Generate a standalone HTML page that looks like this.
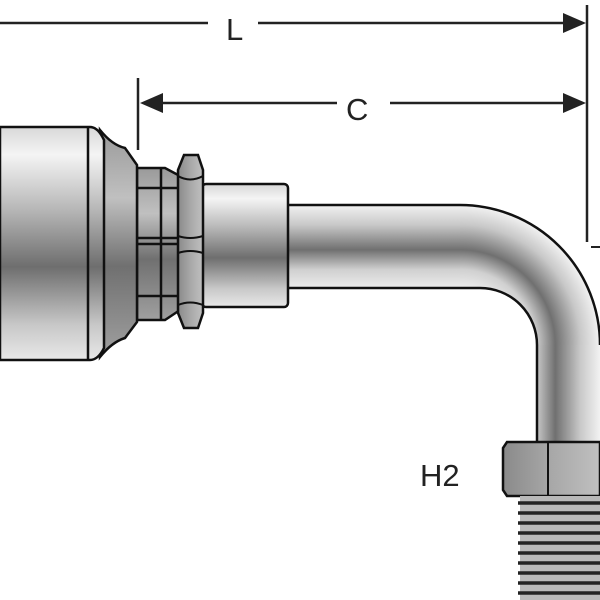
<!DOCTYPE html>
<html><head><meta charset="utf-8"><style>html,body{margin:0;padding:0;background:#fff}svg{display:block}</style></head>
<body>
<svg width="600" height="600" viewBox="0 0 600 600" xmlns="http://www.w3.org/2000/svg">
<defs>
<linearGradient id="gv" x1="0" y1="0" x2="0" y2="1">
<stop offset="0" stop-color="#d8d8d8"/><stop offset="0.12" stop-color="#f4f4f4"/><stop offset="0.35" stop-color="#b8b8b8"/><stop offset="0.6" stop-color="#6e6e6e"/><stop offset="0.85" stop-color="#c8c8c8"/><stop offset="1" stop-color="#e8e8e8"/>
</linearGradient>
<linearGradient id="gt" gradientUnits="userSpaceOnUse" x1="0" y1="205" x2="0" y2="288">
<stop offset="0" stop-color="#f2f2f2"/><stop offset="0.24" stop-color="#c8c8c8"/><stop offset="0.54" stop-color="#707070"/><stop offset="0.78" stop-color="#d0d0d0"/><stop offset="1" stop-color="#ececec"/>
</linearGradient>
<radialGradient id="gr" cx="460" cy="345" r="140" gradientUnits="userSpaceOnUse">
<stop offset="0.41" stop-color="#ececec"/><stop offset="0.54" stop-color="#d0d0d0"/><stop offset="0.68" stop-color="#707070"/><stop offset="0.86" stop-color="#c8c8c8"/><stop offset="1" stop-color="#f2f2f2"/>
</radialGradient>
<linearGradient id="gx" gradientUnits="userSpaceOnUse" x1="517" y1="0" x2="600" y2="0">
<stop offset="0" stop-color="#ececec"/><stop offset="0.22" stop-color="#d0d0d0"/><stop offset="0.46" stop-color="#707070"/><stop offset="0.76" stop-color="#c8c8c8"/><stop offset="1" stop-color="#f2f2f2"/>
</linearGradient>
<linearGradient id="gd" x1="0" y1="0" x2="0" y2="1">
<stop offset="0" stop-color="#9a9a9a"/><stop offset="0.3" stop-color="#c0c0c0"/><stop offset="0.6" stop-color="#707070"/><stop offset="1" stop-color="#a0a0a0"/>
</linearGradient>
<linearGradient id="gn" x1="0" y1="0" x2="1" y2="0">
<stop offset="0" stop-color="#8a8a8a"/><stop offset="0.5" stop-color="#a8a8a8"/><stop offset="1" stop-color="#c0c0c0"/>
</linearGradient>
</defs>
<g stroke="#222" stroke-width="2.5" fill="none">
<line x1="0" y1="23" x2="208" y2="23"/><line x1="258" y1="23" x2="572" y2="23"/>
<line x1="587" y1="5" x2="587" y2="242"/>
<line x1="152" y1="103" x2="337" y2="103"/><line x1="390" y1="103" x2="572" y2="103"/>
<line x1="138" y1="78" x2="138" y2="150"/>
</g>
<polygon points="586,23 563,13 563,33" fill="#222"/>
<polygon points="586,103 563,93 563,113" fill="#222"/>
<polygon points="140,103 163,93 163,113" fill="#222"/>
<line x1="591" y1="247" x2="600" y2="247" stroke="#222" stroke-width="2"/>
<text x="226" y="40" font-family="Liberation Sans, sans-serif" font-size="31" fill="#222">L</text>
<text x="346" y="120" font-family="Liberation Sans, sans-serif" font-size="31" fill="#222">C</text>
<text x="420" y="486" font-family="Liberation Sans, sans-serif" font-size="31" fill="#222">H2</text>
<!-- bend tube -->
<path d="M288 205 L460 205 A140 140 0 0 1 600 345 L600 445 L537 445 L537 345 A57 57 0 0 0 480 288 L288 288 Z" fill="url(#gr)"/>
<rect x="288" y="205" width="172" height="83" fill="url(#gt)"/>
<rect x="537" y="345" width="63" height="100" fill="url(#gx)"/>
<path d="M288 205 L460 205 A140 140 0 0 1 600 345 M537 445 L537 345 A57 57 0 0 0 480 288 L288 288" fill="none" stroke="#111" stroke-width="2.5"/>
<!-- sleeve -->
<rect x="202" y="184" width="86" height="123" rx="4" fill="url(#gv)" stroke="#111" stroke-width="2.5"/>
<!-- rings -->
<path d="M130 168 L165 168 L180 176 L180 310 L165 320 L130 320 Z" fill="url(#gd)" stroke="#111" stroke-width="2.5"/>
<g stroke="#111" stroke-width="2.5"><line x1="137" y1="168" x2="137" y2="320"/><line x1="161" y1="168" x2="161" y2="320"/>
<line x1="137" y1="188" x2="180" y2="188"/><line x1="137" y1="238" x2="180" y2="238"/><line x1="137" y1="244" x2="180" y2="244"/><line x1="137" y1="296" x2="180" y2="296"/></g>
<!-- nut -->
<path d="M184 155 L198 155 L203 170 L203 313 L198 328 L184 328 L178 313 L178 170 Z" fill="url(#gn)" stroke="#111" stroke-width="2.5"/>
<g stroke="#111" stroke-width="2"><path d="M178 176 Q190 183 203 176" fill="none"/><path d="M178 236 Q190 240 203 236" fill="none"/><path d="M178 253 Q190 249 203 253" fill="none"/><path d="M178 305 Q190 300 203 305" fill="none"/></g>
<!-- cone -->
<path d="M100 130 Q112 145 125 148 L137 165 L137 322 L125 338 Q112 342 100 357 Z" fill="url(#gd)" stroke="#111" stroke-width="2.5"/>
<!-- body -->
<path d="M0 127 L90 127 Q98 127 104 140 L104 348 Q98 360 90 360 L0 360 Z" fill="url(#gv)" stroke="#111" stroke-width="2.5"/>
<line x1="88" y1="127" x2="88" y2="360" stroke="#111" stroke-width="2.5"/>
<!-- hex nut bottom -->
<path d="M507 442 L600 442 L600 496 L507 496 L503 490 L503 448 Z" fill="url(#gn)" stroke="#111" stroke-width="2.5"/>
<line x1="548" y1="442" x2="548" y2="496" stroke="#111" stroke-width="2"/>
<!-- threads -->
<rect x="520" y="496" width="80" height="104" fill="#b8b8b8"/>
<g stroke="#222" stroke-width="3.5">
<line x1="518" y1="503" x2="600" y2="503"/><line x1="518" y1="513" x2="600" y2="513"/><line x1="518" y1="523" x2="600" y2="523"/><line x1="518" y1="533" x2="600" y2="533"/><line x1="518" y1="543" x2="600" y2="543"/><line x1="518" y1="553" x2="600" y2="553"/><line x1="518" y1="563" x2="600" y2="563"/><line x1="518" y1="573" x2="600" y2="573"/><line x1="518" y1="583" x2="600" y2="583"/><line x1="518" y1="593" x2="600" y2="593"/>
</g>
</svg>
</body></html>
